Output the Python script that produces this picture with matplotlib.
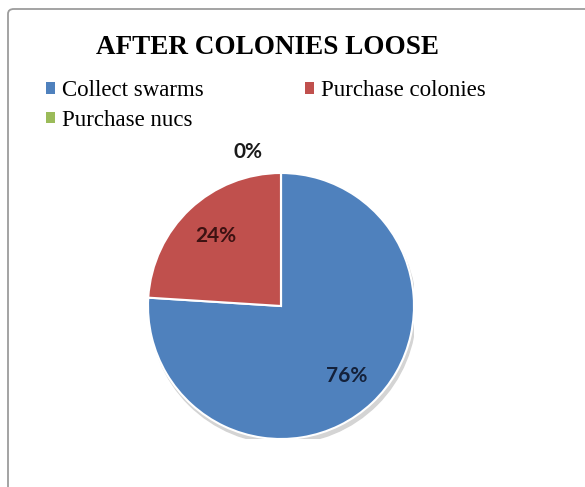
import matplotlib.pyplot as plt
from matplotlib.patches import Patch, FancyBboxPatch, Circle

# data
categories = ['Collect swarms', 'Purchase colonies', 'Purchase nucs']
shares = [76, 24, 0]
colors = ['#4F81BD', '#C0504D', '#9BBB59']
label_colors = ['#14213a', '#3d1212', '#1a1a1a']
title = 'AFTER COLONIES LOOSE'

fig = plt.figure(figsize=(5.85, 4.87), dpi=100)
fig.patch.set_facecolor('white')

# chart frame
W, H = 585, 487
frame = FancyBboxPatch((8 / W, -0.05), 1.2, 1 - 9 / H + 0.05,
                       boxstyle='round,pad=0,rounding_size=0.01',
                       transform=fig.transFigure, facecolor='none',
                       edgecolor='#9c9c9c', linewidth=1.3)
fig.patches.append(frame)

fig.text(268 / W, 1 - 47 / H, title, ha='center', va='center',
         fontsize=19.5, fontweight='bold', family='Liberation Serif')

# pie
cx, cy, r = 281, 306, 133
ax = fig.add_axes([(cx - r) / W, (H - cy - r) / H, 2 * r / W, 2 * r / H])
ax.axis('off')

ax.add_patch(Circle((0.015, -0.035), 1.0, color='#d4d4d4', zorder=0))

wedges, texts, autotexts = ax.pie(
    shares, colors=colors, startangle=90, counterclock=False,
    autopct='%d%%', pctdistance=0.72, radius=1.0,
    wedgeprops=dict(edgecolor='white', linewidth=1.5),
    textprops=dict(fontsize=15, fontweight='bold', family='Lato'))
for t, c in zip(autotexts, label_colors):
    t.set_color(c)
# zero slice label sits outside, above the pie
autotexts[2].set_position((-0.25, 1.16))
autotexts[2].set_clip_on(False)

ax.set_xlim(-1, 1)
ax.set_ylim(-1, 1)
ax.set_aspect('equal')

# legend: two columns, Purchase colonies in the right column
order = [0, 2, 1]
handles = [Patch(facecolor=colors[i], edgecolor='none') for i in order]
labels = [categories[i] for i in order]
fig.legend(handles, labels, ncol=2, loc='upper left',
           bbox_to_anchor=(46 / W, 1 - 80 / H), frameon=False,
           prop=dict(family='Liberation Serif', size=16.5),
           handlelength=0.4, handleheight=0.4, handletextpad=0.3,
           columnspacing=4.4, labelspacing=0.38, borderpad=0,
           borderaxespad=0)

fig.savefig('out.png', dpi=100, facecolor='white')
